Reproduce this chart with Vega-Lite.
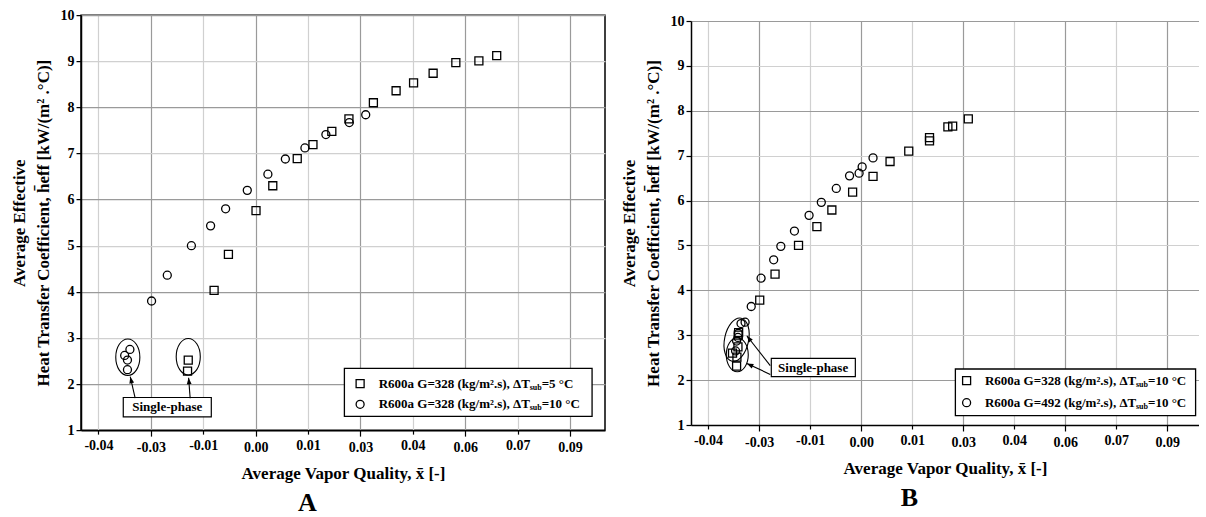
{
  "$schema": "https://vega.github.io/schema/vega-lite/v6.json",
  "background": "white",
  "padding": {"left": 9, "top": 7, "right": 0, "bottom": 0},
  "spacing": 14,
  "center": true,
  "datasets": {
    "ptsL": [
      {"series": "dT5", "x": 0.0001, "h": 5.76},
      {"series": "dT5", "x": -0.0078, "h": 4.81},
      {"series": "dT5", "x": -0.0119, "h": 4.03},
      {"series": "dT5", "x": 0.0049, "h": 6.30},
      {"series": "dT5", "x": 0.0119, "h": 6.89},
      {"series": "dT5", "x": 0.0164, "h": 7.19},
      {"series": "dT5", "x": 0.0218, "h": 7.48},
      {"series": "dT5", "x": 0.0267, "h": 7.75},
      {"series": "dT5", "x": 0.0337, "h": 8.10},
      {"series": "dT5", "x": 0.0402, "h": 8.36},
      {"series": "dT5", "x": 0.0452, "h": 8.53},
      {"series": "dT5", "x": 0.0508, "h": 8.74},
      {"series": "dT5", "x": 0.0573, "h": 8.97},
      {"series": "dT5", "x": 0.0639, "h": 9.01},
      {"series": "dT5", "x": 0.0690, "h": 9.12},
      {"series": "dT5", "x": -0.0193, "h": 2.52},
      {"series": "dT5", "x": -0.0195, "h": 2.28},
      {"series": "dT10", "x": -0.0298, "h": 3.80},
      {"series": "dT10", "x": -0.0253, "h": 4.36},
      {"series": "dT10", "x": -0.0184, "h": 5.00},
      {"series": "dT10", "x": -0.0129, "h": 5.43},
      {"series": "dT10", "x": -0.0086, "h": 5.80},
      {"series": "dT10", "x": -0.0024, "h": 6.20},
      {"series": "dT10", "x": 0.0035, "h": 6.55},
      {"series": "dT10", "x": 0.0085, "h": 6.88},
      {"series": "dT10", "x": 0.0141, "h": 7.12},
      {"series": "dT10", "x": 0.0201, "h": 7.41},
      {"series": "dT10", "x": 0.0268, "h": 7.67},
      {"series": "dT10", "x": 0.0315, "h": 7.84},
      {"series": "dT10", "x": -0.0360, "h": 2.75},
      {"series": "dT10", "x": -0.0375, "h": 2.62},
      {"series": "dT10", "x": -0.0367, "h": 2.52},
      {"series": "dT10", "x": -0.0367, "h": 2.31}
    ],
    "ptsR": [
      {"series": "g328", "x": -0.0298, "h": 3.78},
      {"series": "g328", "x": -0.0253, "h": 4.36},
      {"series": "g328", "x": -0.0184, "h": 5.00},
      {"series": "g328", "x": -0.0130, "h": 5.42},
      {"series": "g328", "x": -0.0086, "h": 5.79},
      {"series": "g328", "x": -0.0025, "h": 6.19},
      {"series": "g328", "x": 0.0035, "h": 6.54},
      {"series": "g328", "x": 0.0085, "h": 6.87},
      {"series": "g328", "x": 0.0140, "h": 7.10},
      {"series": "g328", "x": 0.0201, "h": 7.40},
      {"series": "g328", "x": 0.0201, "h": 7.33},
      {"series": "g328", "x": 0.0255, "h": 7.64},
      {"series": "g328", "x": 0.0269, "h": 7.66},
      {"series": "g328", "x": 0.0315, "h": 7.82},
      {"series": "g328", "x": -0.0366, "h": 2.31},
      {"series": "g328", "x": -0.0365, "h": 2.51},
      {"series": "g328", "x": -0.0378, "h": 2.60},
      {"series": "g328", "x": -0.0362, "h": 2.74},
      {"series": "g328", "x": -0.0361, "h": 3.00},
      {"series": "g328", "x": -0.0360, "h": 3.06},
      {"series": "g492", "x": -0.0323, "h": 3.64},
      {"series": "g492", "x": -0.0294, "h": 4.27},
      {"series": "g492", "x": -0.0257, "h": 4.68},
      {"series": "g492", "x": -0.0236, "h": 4.98},
      {"series": "g492", "x": -0.0196, "h": 5.32},
      {"series": "g492", "x": -0.0153, "h": 5.67},
      {"series": "g492", "x": -0.0117, "h": 5.96},
      {"series": "g492", "x": -0.0073, "h": 6.27},
      {"series": "g492", "x": -0.0034, "h": 6.55},
      {"series": "g492", "x": -0.0006, "h": 6.61},
      {"series": "g492", "x": 0.0003, "h": 6.75},
      {"series": "g492", "x": 0.0035, "h": 6.95},
      {"series": "g492", "x": -0.0369, "h": 2.65},
      {"series": "g492", "x": -0.0366, "h": 2.87},
      {"series": "g492", "x": -0.0362, "h": 2.95},
      {"series": "g492", "x": -0.0361, "h": 3.04},
      {"series": "g492", "x": -0.0353, "h": 3.26},
      {"series": "g492", "x": -0.0341, "h": 3.29}
    ],
    "legBoxL": [{"x1": 0.0254, "x2": 0.0963, "y1": 1.30, "y2": 2.34}],
    "legL": [
      {"series": "dT5", "x": 0.0299, "tx": 0.0352, "h": 2.01, "main": "R600a G=328 (kg/m².s), ΔT", "sub": "sub", "rest": "=5 °C"},
      {"series": "dT10", "x": 0.0299, "tx": 0.0352, "h": 1.56, "main": "R600a G=328 (kg/m².s), ΔT", "sub": "sub", "rest": "=10 °C"}
    ],
    "legBoxR": [{"x1": 0.0277, "x2": 0.0983, "y1": 1.207, "y2": 2.247}],
    "legR": [
      {"series": "g328", "x": 0.0310, "tx": 0.0364, "h": 1.987, "main": "R600a G=328 (kg/m².s), ΔT", "sub": "sub", "rest": "=10 °C"},
      {"series": "g492", "x": 0.0310, "tx": 0.0364, "h": 1.497, "main": "R600a G=492 (kg/m².s), ΔT", "sub": "sub", "rest": "=10 °C"}
    ],
    "annBoxL": [{"x1": -0.0379, "x2": -0.0127, "y1": 1.288, "y2": 1.708, "tx": -0.0253, "ty": 1.498, "label": "Single-phase"}],
    "ellL": [{"x": -0.0366, "h": 2.581}, {"x": -0.0193, "h": 2.592}],
    "arrL": [
      {"id": "a1", "x": -0.0345, "h": 1.693, "x2": -0.0359, "h2": 2.159},
      {"id": "a2", "x": -0.01875, "h": 1.693, "x2": -0.0192, "h2": 2.137}
    ],
    "annBoxR": [{"x1": -0.0264, "x2": -0.0017, "y1": 2.076, "y2": 2.484, "tx": -0.0141, "ty": 2.28, "label": "Single-phase"}],
    "ellR": [{"id": "up", "x": -0.0366, "h": 2.90}, {"id": "low", "x": -0.0364, "h": 2.566}],
    "arrR": [
      {"id": "a1", "x": -0.0267, "h": 2.321, "x2": -0.0336, "h2": 2.989},
      {"id": "a2", "x": -0.0267, "h": 2.127, "x2": -0.0336, "h2": 2.372}
    ]
  },
  "hconcat": [
    {
      "width": 524,
      "height": 415,
      "view": {"stroke": "#000", "strokeWidth": 1.5},
      "title": {"text": "A", "orient": "bottom", "anchor": "middle", "frame": "bounds", "font": "Liberation Serif", "fontSize": 26, "fontWeight": "bold", "color": "#000", "offset": 9},
      "layer": [
        {
          "data": {"name": "ptsL"},
          "mark": {"type": "point", "filled": false, "stroke": "#000", "strokeWidth": 1.3, "size": 64, "opacity": 1},
          "encoding": {
            "x": {"field": "x", "type": "quantitative",
              "scale": {"domain": [-0.05, 0.1], "nice": false, "zero": false},
              "axis": {
                "values": [-0.045, -0.03, -0.015, 0, 0.015, 0.03, 0.045, 0.06, 0.075, 0.09],
                "labelExpr": "['-0.04','-0.03','-0.01','0.00','0.01','0.03','0.04','0.06','0.07','0.09'][round(datum.value/0.015)+3]",
                "title": "Average Vapor Quality, x̄ [-]",
                "gridColor": {"condition": {"test": "abs(datum.value/0.03 - round(datum.value/0.03)) < 0.01", "value": "#9a9a9a"}, "value": "#d0d0d0"},
                "gridWidth": 1.2,
                "tickSize": {"condition": {"test": "abs(datum.value/0.03 - round(datum.value/0.03)) < 0.01", "value": 6}, "value": 4},
                "labelPadding": 4, "titlePadding": 11, "labelFlush": false, "labelOverlap": false
              }},
            "y": {"field": "h", "type": "quantitative",
              "scale": {"domain": [1, 10], "nice": false, "zero": false},
              "axis": {
                "values": [1, 2, 3, 4, 5, 6, 7, 8, 9, 10],
                "title": ["Average Effective", "Heat Transfer Coefficient, h̄eff [kW/(m² .°C)]"],
                "titleLineHeight": 24,
                "gridColor": {"condition": {"test": "datum.value % 2 == 0", "value": "#9a9a9a"}, "value": "#d0d0d0"},
                "gridWidth": 1.2,
                "tickSize": 5, "labelPadding": 2, "titlePadding": 8
              }},
            "shape": {"field": "series", "type": "nominal", "scale": {"domain": ["dT5", "dT10"], "range": ["square", "circle"]}, "legend": null}
          }
        },
        {
          "mark": {"type": "rule", "color": "#000", "strokeWidth": 2},
          "encoding": {"x": {"datum": 0}}
        },
        {
          "data": {"name": "legBoxL"},
          "mark": {"type": "rect", "fill": "white", "stroke": "#000", "strokeWidth": 1.3},
          "encoding": {"x": {"field": "x1", "type": "quantitative"}, "x2": {"field": "x2"}, "y": {"field": "y1", "type": "quantitative"}, "y2": {"field": "y2"}}
        },
        {
          "data": {"name": "legL"},
          "mark": {"type": "point", "filled": false, "stroke": "#000", "strokeWidth": 1.3, "size": 64, "opacity": 1},
          "encoding": {"x": {"field": "x", "type": "quantitative"}, "y": {"field": "h", "type": "quantitative"}, "shape": {"field": "series", "type": "nominal", "legend": null}}
        },
        {
          "data": {"name": "legL"},
          "mark": {"type": "text", "align": "left", "baseline": "middle", "font": "Liberation Serif", "fontWeight": "bold", "fontSize": 13, "color": "#000"},
          "encoding": {"x": {"field": "tx", "type": "quantitative"}, "y": {"field": "h", "type": "quantitative"}, "text": {"field": "main"}}
        },
        {
          "data": {"name": "legL"},
          "mark": {"type": "text", "align": "left", "baseline": "middle", "font": "Liberation Serif", "fontWeight": "bold", "fontSize": 8, "color": "#000", "dx": 151, "dy": 4},
          "encoding": {"x": {"field": "tx", "type": "quantitative"}, "y": {"field": "h", "type": "quantitative"}, "text": {"field": "sub"}}
        },
        {
          "data": {"name": "legL"},
          "mark": {"type": "text", "align": "left", "baseline": "middle", "font": "Liberation Serif", "fontWeight": "bold", "fontSize": 13, "color": "#000", "dx": 163},
          "encoding": {"x": {"field": "tx", "type": "quantitative"}, "y": {"field": "h", "type": "quantitative"}, "text": {"field": "rest"}}
        },
        {
          "data": {"name": "annBoxL"},
          "mark": {"type": "rect", "fill": "white", "stroke": "#000", "strokeWidth": 1.2},
          "encoding": {"x": {"field": "x1", "type": "quantitative"}, "x2": {"field": "x2"}, "y": {"field": "y1", "type": "quantitative"}, "y2": {"field": "y2"}}
        },
        {
          "data": {"name": "annBoxL"},
          "mark": {"type": "text", "align": "center", "baseline": "middle", "font": "Liberation Serif", "fontWeight": "bold", "fontSize": 13, "color": "#000"},
          "encoding": {"x": {"field": "tx", "type": "quantitative"}, "y": {"field": "ty", "type": "quantitative"}, "text": {"field": "label"}}
        },
        {
          "data": {"name": "ellL"},
          "mark": {"type": "point", "filled": false, "stroke": "#000", "strokeWidth": 1.1, "opacity": 1, "size": 1332, "shape": "M -0.66 0 A 0.66 1 0 1 1 0.66 0 A 0.66 1 0 1 1 -0.66 0 Z"},
          "encoding": {"x": {"field": "x", "type": "quantitative"}, "y": {"field": "h", "type": "quantitative"}}
        },
        {
          "data": {"name": "arrL"},
          "mark": {"type": "rule", "color": "#000", "strokeWidth": 1.1},
          "encoding": {"x": {"field": "x", "type": "quantitative"}, "y": {"field": "h", "type": "quantitative"}, "x2": {"field": "x2"}, "y2": {"field": "h2"}}
        },
        {
          "data": {"name": "arrL"},
          "transform": [{"filter": "datum.id == 'a1'"}],
          "mark": {"type": "point", "filled": true, "fill": "#000", "stroke": null, "opacity": 1, "size": 144, "angle": 347, "shape": "M 0 0 L -0.4 1.1 L 0.4 1.1 Z"},
          "encoding": {"x": {"field": "x2", "type": "quantitative"}, "y": {"field": "h2", "type": "quantitative"}}
        },
        {
          "data": {"name": "arrL"},
          "transform": [{"filter": "datum.id == 'a2'"}],
          "mark": {"type": "point", "filled": true, "fill": "#000", "stroke": null, "opacity": 1, "size": 144, "angle": 355, "shape": "M 0 0 L -0.4 1.1 L 0.4 1.1 Z"},
          "encoding": {"x": {"field": "x2", "type": "quantitative"}, "y": {"field": "h2", "type": "quantitative"}}
        }
      ]
    },
    {
      "width": 508,
      "height": 404,
      "view": {"stroke": null},
      "title": {"text": "B", "orient": "bottom", "anchor": "middle", "frame": "bounds", "font": "Liberation Serif", "fontSize": 26, "fontWeight": "bold", "color": "#000", "offset": 9},
      "layer": [
        {
          "data": {"name": "ptsR"},
          "mark": {"type": "point", "filled": false, "stroke": "#000", "strokeWidth": 1.3, "size": 64, "opacity": 1},
          "encoding": {
            "x": {"field": "x", "type": "quantitative",
              "scale": {"domain": [-0.05, 0.0993], "nice": false, "zero": false},
              "axis": {
                "values": [-0.045, -0.03, -0.015, 0, 0.015, 0.03, 0.045, 0.06, 0.075, 0.09],
                "labelExpr": "['-0.04','-0.03','-0.01','0.00','0.01','0.03','0.04','0.06','0.07','0.09'][round(datum.value/0.015)+3]",
                "title": "Average Vapor Quality, x̄ [-]",
                "gridColor": {"condition": {"test": "abs(datum.value/0.03 - round(datum.value/0.03)) < 0.01", "value": "#9a9a9a"}, "value": "#d0d0d0"},
                "gridWidth": 1.2,
                "tickSize": {"condition": {"test": "abs(datum.value/0.03 - round(datum.value/0.03)) < 0.01", "value": 6}, "value": 4},
                "labelPadding": 4, "titlePadding": 11, "labelFlush": false, "labelOverlap": false
              }},
            "y": {"field": "h", "type": "quantitative",
              "scale": {"domain": [1, 10], "nice": false, "zero": false},
              "axis": {
                "values": [1, 2, 3, 4, 5, 6, 7, 8, 9, 10],
                "title": ["Average Effective", "Heat Transfer Coefficient, h̄eff [kW/(m² .°C)]"],
                "titleLineHeight": 24,
                "gridColor": {"condition": {"test": "datum.value % 2 == 0", "value": "#9a9a9a"}, "value": "#d0d0d0"},
                "gridWidth": 1.2,
                "tickSize": 5, "labelPadding": 2, "titlePadding": 8
              }},
            "shape": {"field": "series", "type": "nominal", "scale": {"domain": ["g328", "g492"], "range": ["square", "circle"]}, "legend": null}
          }
        },
        {
          "mark": {"type": "rule", "color": "#000", "strokeWidth": 1.5},
          "encoding": {"x": {"datum": 0}}
        },
        {
          "mark": {"type": "rule", "color": "#000", "strokeWidth": 1.5},
          "encoding": {"y": {"datum": 10}}
        },
        {
          "data": {"name": "legBoxR"},
          "mark": {"type": "rect", "fill": "white", "stroke": "#000", "strokeWidth": 1.3},
          "encoding": {"x": {"field": "x1", "type": "quantitative"}, "x2": {"field": "x2"}, "y": {"field": "y1", "type": "quantitative"}, "y2": {"field": "y2"}}
        },
        {
          "data": {"name": "legR"},
          "mark": {"type": "point", "filled": false, "stroke": "#000", "strokeWidth": 1.3, "size": 64, "opacity": 1},
          "encoding": {"x": {"field": "x", "type": "quantitative"}, "y": {"field": "h", "type": "quantitative"}, "shape": {"field": "series", "type": "nominal", "legend": null}}
        },
        {
          "data": {"name": "legR"},
          "mark": {"type": "text", "align": "left", "baseline": "middle", "font": "Liberation Serif", "fontWeight": "bold", "fontSize": 13, "color": "#000"},
          "encoding": {"x": {"field": "tx", "type": "quantitative"}, "y": {"field": "h", "type": "quantitative"}, "text": {"field": "main"}}
        },
        {
          "data": {"name": "legR"},
          "mark": {"type": "text", "align": "left", "baseline": "middle", "font": "Liberation Serif", "fontWeight": "bold", "fontSize": 8, "color": "#000", "dx": 151, "dy": 4},
          "encoding": {"x": {"field": "tx", "type": "quantitative"}, "y": {"field": "h", "type": "quantitative"}, "text": {"field": "sub"}}
        },
        {
          "data": {"name": "legR"},
          "mark": {"type": "text", "align": "left", "baseline": "middle", "font": "Liberation Serif", "fontWeight": "bold", "fontSize": 13, "color": "#000", "dx": 163},
          "encoding": {"x": {"field": "tx", "type": "quantitative"}, "y": {"field": "h", "type": "quantitative"}, "text": {"field": "rest"}}
        },
        {
          "data": {"name": "annBoxR"},
          "mark": {"type": "rect", "fill": "white", "stroke": "#000", "strokeWidth": 1.2},
          "encoding": {"x": {"field": "x1", "type": "quantitative"}, "x2": {"field": "x2"}, "y": {"field": "y1", "type": "quantitative"}, "y2": {"field": "y2"}}
        },
        {
          "data": {"name": "annBoxR"},
          "mark": {"type": "text", "align": "center", "baseline": "middle", "font": "Liberation Serif", "fontWeight": "bold", "fontSize": 13, "color": "#000"},
          "encoding": {"x": {"field": "tx", "type": "quantitative"}, "y": {"field": "ty", "type": "quantitative"}, "text": {"field": "label"}}
        },
        {
          "data": {"name": "ellR"},
          "transform": [{"filter": "datum.id == 'up'"}],
          "mark": {"type": "point", "filled": false, "stroke": "#000", "strokeWidth": 1.1, "opacity": 1, "size": 1936, "angle": 12, "shape": "M -0.545 0 A 0.545 1 0 1 1 0.545 0 A 0.545 1 0 1 1 -0.545 0 Z"},
          "encoding": {"x": {"field": "x", "type": "quantitative"}, "y": {"field": "h", "type": "quantitative"}}
        },
        {
          "data": {"name": "ellR"},
          "transform": [{"filter": "datum.id == 'low'"}],
          "mark": {"type": "point", "filled": false, "stroke": "#000", "strokeWidth": 1.1, "opacity": 1, "size": 1156, "shape": "M -0.647 0 A 0.647 1 0 1 1 0.647 0 A 0.647 1 0 1 1 -0.647 0 Z"},
          "encoding": {"x": {"field": "x", "type": "quantitative"}, "y": {"field": "h", "type": "quantitative"}}
        },
        {
          "data": {"name": "arrR"},
          "mark": {"type": "rule", "color": "#000", "strokeWidth": 1.1},
          "encoding": {"x": {"field": "x", "type": "quantitative"}, "y": {"field": "h", "type": "quantitative"}, "x2": {"field": "x2"}, "y2": {"field": "h2"}}
        },
        {
          "data": {"name": "arrR"},
          "transform": [{"filter": "datum.id == 'a1'"}],
          "mark": {"type": "point", "filled": true, "fill": "#000", "stroke": null, "opacity": 1, "size": 144, "angle": 322, "shape": "M 0 0 L -0.4 1.1 L 0.4 1.1 Z"},
          "encoding": {"x": {"field": "x2", "type": "quantitative"}, "y": {"field": "h2", "type": "quantitative"}}
        },
        {
          "data": {"name": "arrR"},
          "transform": [{"filter": "datum.id == 'a2'"}],
          "mark": {"type": "point", "filled": true, "fill": "#000", "stroke": null, "opacity": 1, "size": 144, "angle": 295, "shape": "M 0 0 L -0.4 1.1 L 0.4 1.1 Z"},
          "encoding": {"x": {"field": "x2", "type": "quantitative"}, "y": {"field": "h2", "type": "quantitative"}}
        }
      ]
    }
  ],
  "config": {
    "font": "Liberation Serif",
    "axis": {
      "labelFont": "Liberation Serif", "labelFontWeight": "bold", "labelFontSize": 14, "labelColor": "#000",
      "titleFont": "Liberation Serif", "titleFontWeight": "bold", "titleFontSize": 17, "titleColor": "#000",
      "domainColor": "#000", "domainWidth": 1.5, "tickColor": "#000", "tickWidth": 1.2
    },
    "view": {"stroke": "#000", "strokeWidth": 1.5}
  }
}
